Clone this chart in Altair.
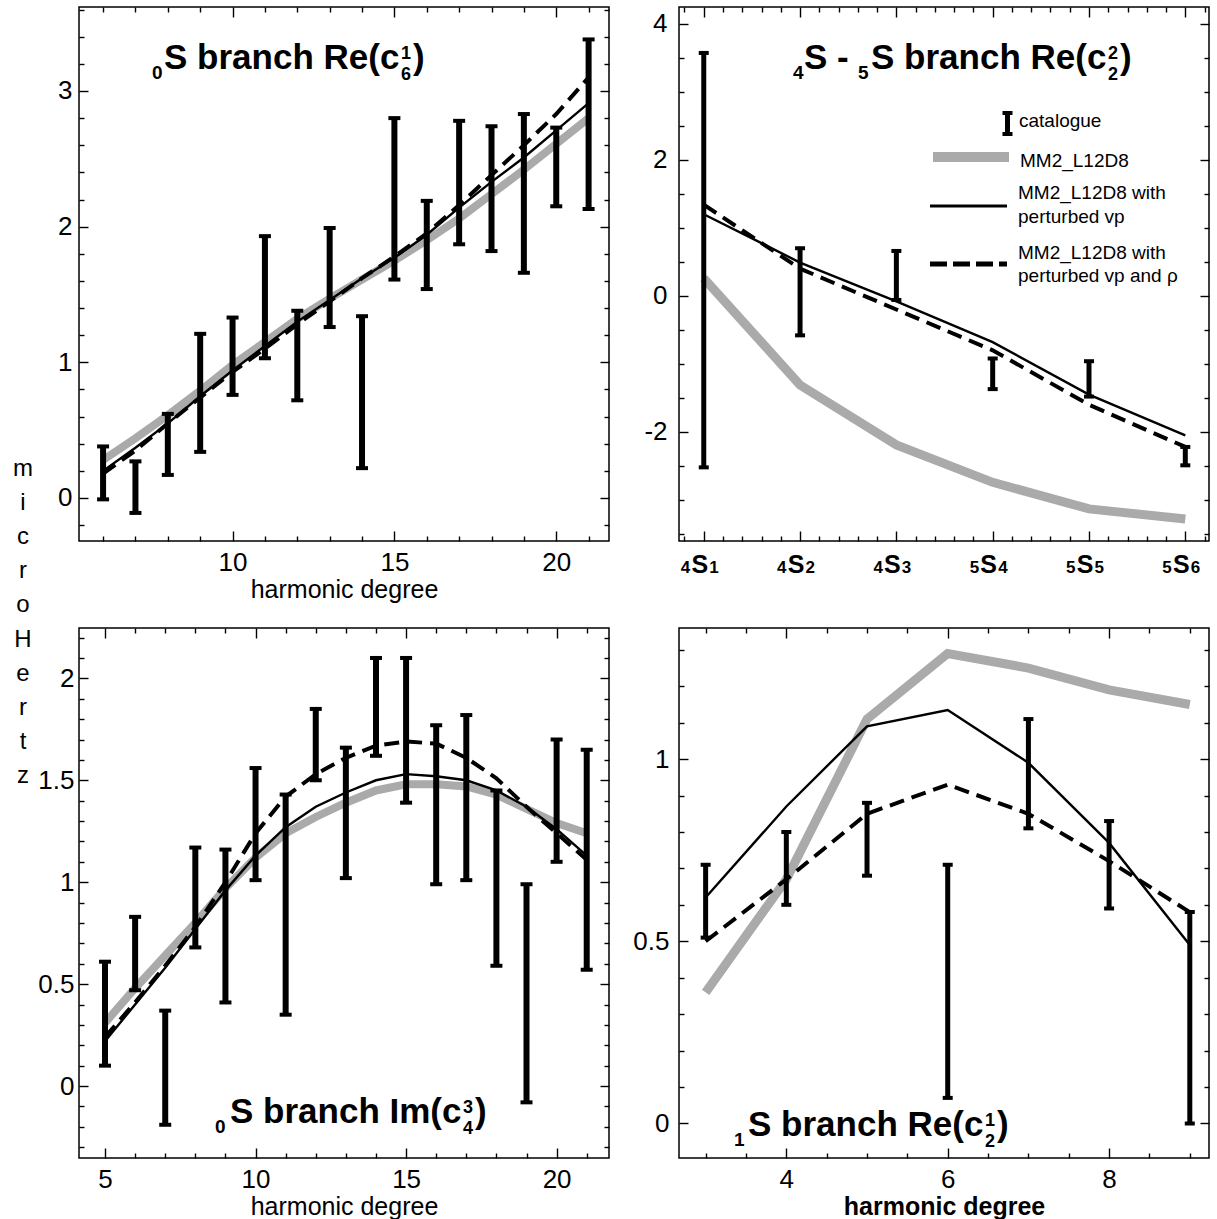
import altair as alt
import pandas as pd

FONT = "Liberation Sans"

# ---------------- data ----------------
# Panel 1: 0S branch Re(c_6^1)
p1_l = list(range(6, 22))
p1_lo = [-0.01, -0.11, 0.17, 0.34, 0.76, 1.03, 0.72, 1.26, 0.22, 1.61, 1.54, 1.87, 1.82, 1.66, 2.15, 2.13]
p1_hi = [0.38, 0.27, 0.62, 1.21, 1.33, 1.93, 1.38, 1.99, 1.34, 2.80, 2.19, 2.78, 2.74, 2.83, 2.73, 3.38]
p1_gray = [0.28, 0.44, 0.61, 0.79, 0.98, 1.15, 1.32, 1.47, 1.61, 1.75, 1.90, 2.06, 2.24, 2.42, 2.61, 2.80]
p1_solid = [0.20, 0.37, 0.55, 0.75, 0.94, 1.12, 1.30, 1.46, 1.62, 1.77, 1.94, 2.14, 2.33, 2.51, 2.71, 2.91]
p1_dash = [0.18, 0.35, 0.55, 0.74, 0.93, 1.10, 1.28, 1.45, 1.62, 1.78, 1.95, 2.16, 2.38, 2.60, 2.83, 3.10]

# Panel 2: 4S - 5S branch Re(c_2^2)
p2_x = [1, 2, 3, 4, 5, 6]
p2_n = ["4", "4", "4", "5", "5", "5"]
p2_k = ["1", "2", "3", "4", "5", "6"]
p2_lo = [-2.52, -0.58, -0.06, -1.37, -1.48, -2.49]
p2_hi = [3.57, 0.70, 0.66, -0.92, -0.96, -2.22]
p2_gray = [0.26, -1.31, -2.19, -2.74, -3.13, -3.28]
p2_solid = [1.20, 0.49, -0.08, -0.68, -1.45, -2.05]
p2_dash = [1.34, 0.40, -0.20, -0.80, -1.60, -2.22]

# Panel 3: 0S branch Im(c_4^3)
p3_l = list(range(5, 22))
p3_lo = [0.10, 0.47, -0.19, 0.68, 0.41, 1.01, 0.35, 1.50, 1.02, 1.62, 1.39, 0.99, 1.01, 0.59, -0.08, 1.10, 0.57]
p3_hi = [0.61, 0.83, 0.37, 1.17, 1.16, 1.56, 1.43, 1.85, 1.66, 2.10, 2.10, 1.77, 1.82, 1.45, 0.99, 1.70, 1.65]
p3_gray = [0.31, 0.48, 0.64, 0.80, 0.97, 1.12, 1.24, 1.32, 1.39, 1.45, 1.48, 1.48, 1.47, 1.43, 1.36, 1.29, 1.24]
p3_solid = [0.22, 0.40, 0.58, 0.77, 0.96, 1.13, 1.27, 1.37, 1.44, 1.50, 1.53, 1.52, 1.50, 1.45, 1.37, 1.26, 1.13]
p3_dash = [0.24, 0.41, 0.59, 0.78, 1.00, 1.24, 1.42, 1.53, 1.61, 1.67, 1.69, 1.68, 1.61, 1.51, 1.37, 1.24, 1.11]

# Panel 4: 1S branch Re(c_2^1)
p4_l = [3, 4, 5, 6, 7, 8, 9]
p4_lo = [0.51, 0.60, 0.68, 0.07, 0.81, 0.59, 0.00]
p4_hi = [0.71, 0.80, 0.88, 0.71, 1.11, 0.83, 0.58]
p4_gray = [0.36, 0.67, 1.11, 1.29, 1.25, 1.19, 1.15]
p4_solid = [0.62, 0.87, 1.09, 1.135, 0.99, 0.77, 0.49]
p4_dash = [0.50, 0.67, 0.85, 0.93, 0.85, 0.72, 0.58]

# tick values
p1_xmaj = [10, 15, 20]
p1_xmin = [6, 7, 8, 9, 11, 12, 13, 14, 16, 17, 18, 19, 21]
p1_ymaj = [0, 1, 2, 3]
p1_ymin = [-0.2, 0.2, 0.4, 0.6, 0.8, 1.2, 1.4, 1.6, 1.8, 2.2, 2.4, 2.6, 2.8, 3.2, 3.4, 3.6]

p2_xmaj = [1, 2, 3, 4, 5, 6]
p2_xmin = [0.8, 1.2, 1.4, 1.6, 1.8, 2.2, 2.4, 2.6, 2.8, 3.2, 3.4, 3.6, 3.8,
           4.2, 4.4, 4.6, 4.8, 5.2, 5.4, 5.6, 5.8, 6.2]
p2_ymaj = [-2, 0, 2, 4]
p2_ymin = [-3.5, -3, -2.5, -1.5, -1, -0.5, 0.5, 1, 1.5, 2.5, 3, 3.5]

p3_xmaj = [5, 10, 15, 20]
p3_xmin = [6, 7, 8, 9, 11, 12, 13, 14, 16, 17, 18, 19, 21]
p3_ymaj = [0, 0.5, 1, 1.5, 2]
p3_ymin = [-0.3, -0.2, -0.1, 0.1, 0.2, 0.3, 0.4, 0.6, 0.7, 0.8, 0.9, 1.1, 1.2, 1.3, 1.4,
           1.6, 1.7, 1.8, 1.9, 2.1, 2.2]

p4_xmaj = [4, 6, 8]
p4_xmin = [3, 3.5, 4.5, 5, 5.5, 6.5, 7, 7.5, 8.5, 9]
p4_ymaj = [0, 0.5, 1]
p4_ymin = [0.1, 0.2, 0.3, 0.4, 0.6, 0.7, 0.8, 0.9, 1.1, 1.2, 1.3]

W = 530
H_TOP = 534
H_BOT = 530
LABEL_SIZE = 26
TITLE_SIZE = 25

DUMMY = pd.DataFrame({"d": [0]})


def txt(s, x, y, size, weight="bold", align="left", baseline="alphabetic", **kw):
    return alt.Chart(DUMMY).mark_text(
        text=s, font=FONT, fontSize=size, fontWeight=weight, align=align,
        baseline=baseline, color="black", **kw
    ).encode(x=alt.value(x), y=alt.value(y))


def axis(orient, values, size, labels=False, **kw):
    args = dict(orient=orient, values=values, tickSize=size, offset=-size, domain=False,
                grid=False, labels=labels, ticks=True, tickColor="black", tickWidth=1.4)
    if "title" not in kw:
        args["title"] = None
    if labels:
        args.update(labelFont=FONT, labelFontSize=LABEL_SIZE, labelColor="black",
                    labelExpr="'' + datum.value", labelOverlap=False, labelFlush=False)
    args.update(kw)
    return alt.Axis(**args)


def panel(x, lo, hi, gray, solid, dash, xdom, ydom, xmaj, xmin, ymaj, ymin, h,
          bar_w, cap_w, gray_w=9, xlabels=True, xtitle=None, xtitle_bold=False, ylabpad=7,
          extra=()):
    df = pd.DataFrame({"x": x, "lo": lo, "hi": hi, "gray": gray, "solid": solid, "dash": dash})
    xs = alt.Scale(domain=xdom, nice=False, zero=False)
    ys = alt.Scale(domain=ydom, nice=False, zero=False)
    base = alt.Chart(df)

    def X(f, ax=None):
        return alt.X(f, type="quantitative", scale=xs, axis=ax)

    def Y(f, ax=None):
        return alt.Y(f, type="quantitative", scale=ys, axis=ax)

    layers = [
        base.mark_line(color="#aaaaaa", strokeWidth=gray_w, strokeCap="butt").encode(x=X("x"), y=Y("gray")),
        base.mark_line(color="black", strokeWidth=2.4).encode(x=X("x"), y=Y("solid")),
        base.mark_line(color="black", strokeWidth=4, strokeDash=[15, 8]).encode(x=X("x"), y=Y("dash")),
        base.mark_rule(color="black", strokeWidth=bar_w).encode(x=X("x"), y=Y("lo"), y2="hi"),
        base.mark_tick(orient="horizontal", color="black", size=cap_w, thickness=4, opacity=1).encode(x=X("x"), y=Y("hi")),
        base.mark_tick(orient="horizontal", color="black", size=cap_w, thickness=4, opacity=1).encode(x=X("x"), y=Y("lo")),
    ]

    xkw = {}
    if xtitle:
        xkw = dict(title=xtitle, titleFont=FONT, titleFontSize=TITLE_SIZE, titleColor="black",
                   titleFontWeight="bold" if xtitle_bold else "normal", titlePadding=2)
    bx_major = axis("bottom", xmaj, 10, labels=xlabels, labelPadding=8, **xkw)
    ly_major = axis("left", ymaj, 9, labels=True, labelPadding=ylabpad)
    inv = base.mark_point(opacity=0)
    layers += [
        inv.encode(x=X("x", bx_major), y=Y("lo", ly_major)),
        inv.encode(x=X("x", axis("bottom", xmin, 5)), y=Y("lo", axis("left", ymin, 5))),
        inv.encode(x=X("x", axis("top", xmaj, 10)), y=Y("lo", axis("right", ymaj, 9))),
        inv.encode(x=X("x", axis("top", xmin, 5)), y=Y("lo", axis("right", ymin, 5))),
    ]
    layers += list(extra)
    return alt.layer(*layers).resolve_axis(x="independent", y="independent").properties(width=W, height=h)


def title_parts(sub0, sub0_x, main, main_x, base_y, sup, sub, ss_x, close_x):
    return [
        txt(sub0, sub0_x, base_y + 10, 19),
        txt(main, main_x, base_y, 35),
        txt(sup, ss_x, base_y - 10, 18),
        txt(sub, ss_x, base_y + 11, 18),
        txt(")", close_x, base_y, 35),
    ]


# ---------------- panel 1 ----------------
t1 = title_parts("0", 73, "S branch Re(c", 85, 62, "1", "6", 322, 334) + [
    alt.Chart(DUMMY).mark_text(
        text="m\ni\nc\nr\no\nH\ne\nr\nt\nz", lineBreak="\n", lineHeight=34.1, font=FONT,
        fontSize=24, align="center", baseline="top", color="black"
    ).encode(x=alt.value(-56), y=alt.value(450)),
]
c1 = panel(p1_l, p1_lo, p1_hi, p1_gray, p1_solid, p1_dash, [5.256, 21.63], [-0.317, 3.619],
           p1_xmaj, p1_xmin, p1_ymaj, p1_ymin, H_TOP, 6, 12, gray_w=8,
           xtitle="harmonic degree", ylabpad=7, extra=t1)

# ---------------- panel 2 ----------------
lab_df = pd.DataFrame({"x": p2_x, "n": p2_n, "k": p2_k})
xs2 = alt.Scale(domain=[0.743, 6.246], nice=False, zero=False)
lab_base = alt.Chart(lab_df)
mode_labels = [
    lab_base.mark_text(font=FONT, fontSize=25, fontWeight="bold", align="center", dx=-4,
                       baseline="alphabetic", color="black").encode(
        x=alt.X("x:Q", scale=xs2, axis=None), y=alt.value(566), text=alt.value("S")),
    lab_base.mark_text(font=FONT, fontSize=17, fontWeight="bold", align="right", dx=-13.5,
                       baseline="alphabetic", color="black").encode(
        x=alt.X("x:Q", scale=xs2, axis=None), y=alt.value(566), text="n:N"),
    lab_base.mark_text(font=FONT, fontSize=17, fontWeight="bold", align="left", dx=5.5,
                       baseline="alphabetic", color="black").encode(
        x=alt.X("x:Q", scale=xs2, axis=None), y=alt.value(566), text="k:N"),
]
legend = [
    alt.Chart(DUMMY).mark_rule(color="black", strokeWidth=5).encode(
        x=alt.value(328.5), y=alt.value(106), y2=alt.value(127)),
    alt.Chart(DUMMY).mark_rule(color="black", strokeWidth=4).encode(
        x=alt.value(323.5), x2=alt.value(333.5), y=alt.value(106)),
    alt.Chart(DUMMY).mark_rule(color="black", strokeWidth=4).encode(
        x=alt.value(323.5), x2=alt.value(333.5), y=alt.value(127)),
    txt("catalogue", 340, 114, 19, weight="normal", baseline="middle"),
    alt.Chart(DUMMY).mark_rule(color="#aaaaaa", strokeWidth=10).encode(
        x=alt.value(254), x2=alt.value(330), y=alt.value(150)),
    txt("MM2_L12D8", 341, 154, 19, weight="normal", baseline="middle"),
    alt.Chart(DUMMY).mark_rule(color="black", strokeWidth=3).encode(
        x=alt.value(251), x2=alt.value(328), y=alt.value(199)),
    txt("MM2_L12D8 with", 339, 186, 19, weight="normal", baseline="middle"),
    txt("perturbed vp", 339, 210, 19, weight="normal", baseline="middle"),
    alt.Chart(DUMMY).mark_rule(color="black", strokeWidth=5, strokeDash=[17, 6]).encode(
        x=alt.value(251), x2=alt.value(328), y=alt.value(257)),
    txt("MM2_L12D8 with", 339, 246, 19, weight="normal", baseline="middle"),
    txt("perturbed vp and \u03c1", 339, 269, 19, weight="normal", baseline="middle"),
]
t2 = [txt("4", 114, 72, 19), txt("S -", 125, 62, 35)] + \
    title_parts("5", 179, "S branch Re(c", 192, 62, "2", "2", 429, 441)
c2 = panel(p2_x, p2_lo, p2_hi, p2_gray, p2_solid, p2_dash, [0.743, 6.246], [-3.602, 4.245],
           p2_xmaj, p2_xmin, p2_ymaj, p2_ymin, H_TOP, 5, 10, gray_w=9, xlabels=False, ylabpad=12,
           extra=t2 + legend + mode_labels)

# ---------------- panel 3 ----------------
t3 = title_parts("0", 136, "S branch Im(c", 151, 495, "3", "4", 384, 396)
c3 = panel(p3_l, p3_lo, p3_hi, p3_gray, p3_solid, p3_dash, [4.136, 21.74], [-0.353, 2.247],
           p3_xmaj, p3_xmin, p3_ymaj, p3_ymin, H_BOT, 6, 12, gray_w=8,
           xtitle="harmonic degree", ylabpad=5, extra=t3)

# ---------------- panel 4 ----------------
t4 = title_parts("1", 55, "S branch Re(c", 69, 508, "1", "2", 306, 318)
c4 = panel(p4_l, p4_lo, p4_hi, p4_gray, p4_solid, p4_dash, [2.67, 9.238], [-0.095, 1.36],
           p4_xmaj, p4_xmin, p4_ymaj, p4_ymin, H_BOT, 5, 10, gray_w=9,
           xtitle="harmonic degree", xtitle_bold=True, ylabpad=10, extra=t4)

chart = alt.concat(
    c1, c2, c3, c4, columns=2, spacing={"row": 87, "column": 70}, bounds="flush"
).configure_view(
    stroke="black", strokeWidth=1.5
).properties(
    padding={"left": 12, "top": 5, "right": 0, "bottom": 0}, background="white"
)

chart.save("out.html", embed_options={"renderer": "svg", "actions": False})
